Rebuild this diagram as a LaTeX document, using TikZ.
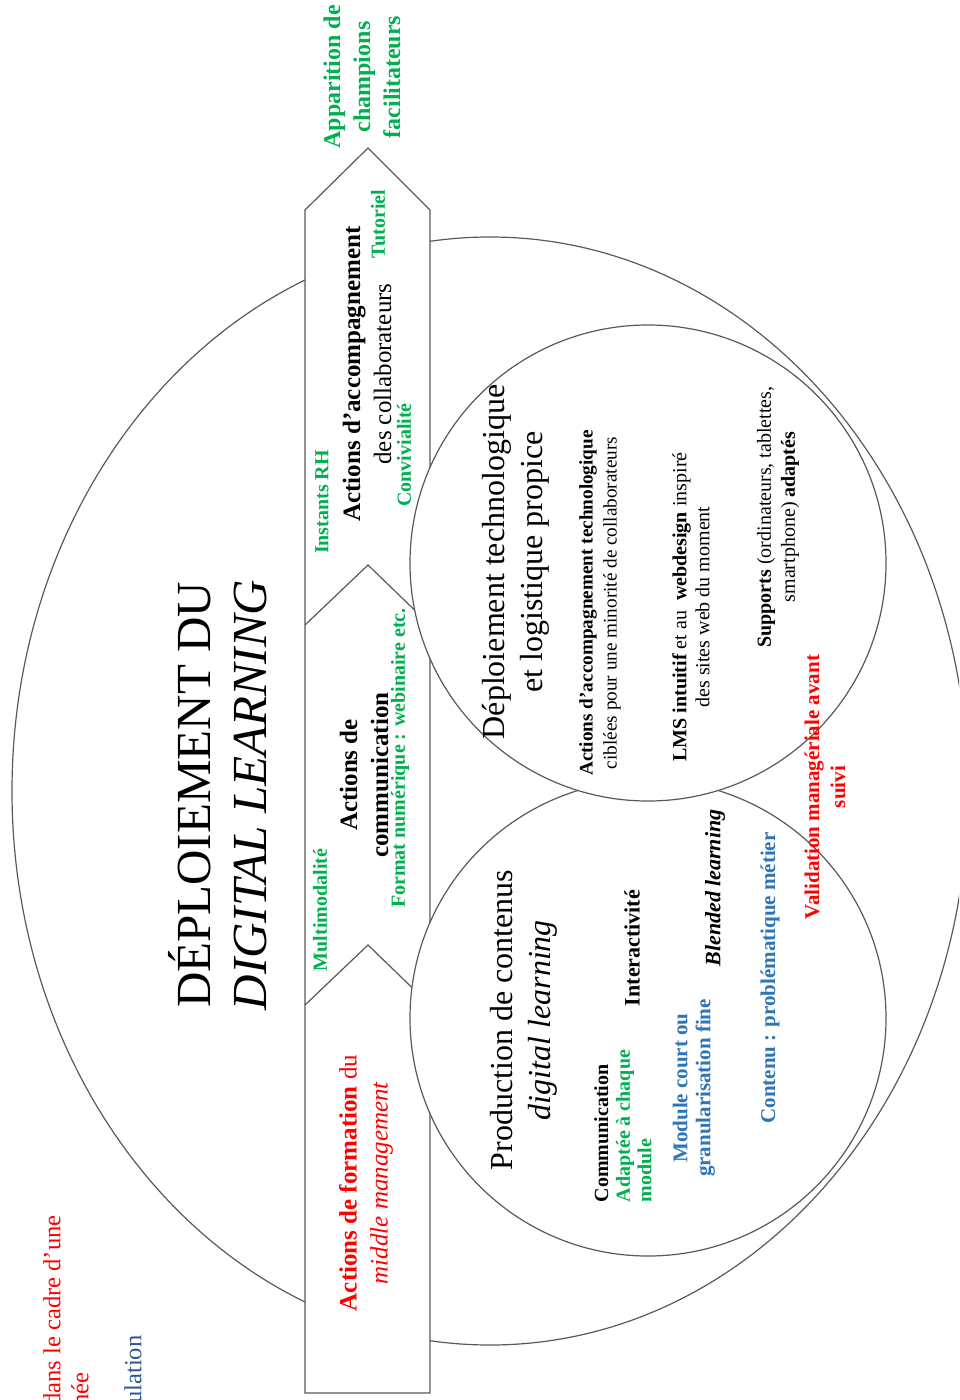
\documentclass[tikz,border=0pt]{standalone}
\usepackage{fontspec}
\setmainfont{Liberation Serif}
\definecolor{vert}{HTML}{00B050}
\definecolor{rouge}{HTML}{FF0000}
\definecolor{bleu}{HTML}{2E75B6}
\definecolor{bleufonce}{HTML}{2F5597}
\definecolor{trait}{HTML}{595959}
\newcommand{\myfs}[2]{\fontsize{#1}{#2}\selectfont}
\begin{document}
\begin{tikzpicture}[x=0.5pt,y=-0.5pt,
  ln/.style={draw=trait, line width=0.6pt},
  txt/.style={rotate=90, align=center, inner sep=0pt},
  small/.style={font=\myfs{10}{12}\bfseries},
]
\path[use as bounding box] (0,0) rectangle (959,1400);
\clip (0,0) rectangle (959,1400);
% outer ellipse
\draw[ln] (490,791) ellipse [x radius=239pt, y radius=277pt];
% band
\draw[ln, fill=white] (305,1393) -- (305,210) -- (368,148) -- (430,210) -- (430,1393) -- cycle;
\draw[ln] (305,625) -- (368,565) -- (430,625);
\draw[ln] (305,1005) -- (368,945) -- (430,1005);
% circles
\draw[ln, fill=white] (648,1018) circle [radius=119pt];
\draw[ln, fill=white] (648,563) circle [radius=119pt];
% title
\node[txt, font=\myfs{24.5}{28}] (title) at (218,795) {DÉPLOIEMENT DU\\\textit{DIGITAL LEARNING}};
% band texts
\node[txt, font=\myfs{12}{15}\bfseries, text=vert] (appar) at (362,77) {Apparition de\\champions\\facilitateurs};
\node[txt, small, text=vert] (tuto) at (378,224) {Tutoriel};
\node[txt, font=\myfs{12.5}{15.5}] (accomp) at (367,374) {\textbf{Actions d’accompagnement}\\des collaborateurs};
\node[txt, small, text=vert] (conv) at (404,455) {Convivialité};
\node[txt, small, text=vert] (instants) at (322,502) {Instants RH};
\node[txt, font=\myfs{12.5}{15.5}\bfseries] (comm) at (364,775) {Actions de\\communication};
\node[txt, small, text=vert] (format) at (400,758) {Format numérique : webinaire etc.};
\node[txt, small, text=vert] (multi) at (320,910) {Multimodalité};
\node[txt, font=\myfs{12.5}{15.5}, text=rouge] (formation) at (366,1183) {\textbf{Actions de formation} du\\\textit{middle management}};
% top circle
\node[txt, font=\myfs{16}{19}] (deploi) at (516,562) {Déploiement technologique\\et logistique propice};
\node[txt, font=\myfs{9.6}{12}] (accomptech) at (600,603) {\textbf{Actions d’accompagnement technologique}\\ciblées pour une minorité de collaborateurs};
\node[txt, font=\myfs{10}{11.5}] (lms) at (691,607) {\textbf{LMS intuitif} et au \ \textbf{webdesign} inspiré\\des sites web du moment};
\node[txt, font=\myfs{10}{12}] (supports) at (778,517) {\textbf{Supports} (ordinateurs, tablettes,\\smartphone) \textbf{adaptés}};
\node[txt, font=\myfs{10.5}{13}\bfseries, text=rouge] (valid) at (825,787) {Validation managériale avant\\suivi};
% bottom circle
\node[txt, font=\myfs{16}{19}] (prod) at (524,1020) {Production de contenus\\\textit{digital learning}};
\node[txt, align=left, font=\myfs{10}{10.8}\bfseries] (commu) at (623,1126) {Communication\\\textcolor{vert}{Adaptée à chaque}\\\textcolor{vert}{module}};
\node[txt, font=\myfs{11}{13}\bfseries] (inter) at (632,948) {Interactivité};
\node[txt, font=\myfs{11}{13}\bfseries\itshape] (blended) at (715,888) {Blended learning};
\node[txt, font=\myfs{10.5}{11.5}\bfseries, text=bleu] (module) at (694,1088) {Module court ou\\granularisation fine};
\node[txt, font=\myfs{10.5}{12}\bfseries, text=bleu] (contenu) at (770,978) {Contenu : problématique métier};
% partial texts at bottom left
\node[rotate=90, anchor=east, inner sep=0pt, font=\myfs{12.3}{14}, text=rouge] (p1) at (52,1215) {dans le cadre d’une};
\node[rotate=90, anchor=east, inner sep=0pt, font=\myfs{12.3}{14}, text=rouge] (p2) at (80,1372) {née};
\node[rotate=90, anchor=east, inner sep=0pt, font=\myfs{12.3}{14}, text=bleufonce] (p3) at (133,1335) {ulation};
\end{tikzpicture}
\end{document}
